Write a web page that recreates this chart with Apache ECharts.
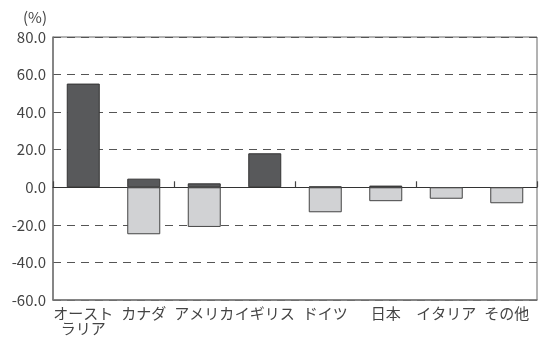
<!DOCTYPE html>
<html>
<head>
<meta charset="utf-8">
<script src="https://cdn.jsdelivr.net/npm/echarts@6/dist/echarts.min.js"></script>
<style>
  html, body { margin: 0; padding: 0; background: #fff; }
  #chart { width: 546px; height: 341px; }
</style>
</head>
<body>
<div id="chart"></div>
<script>
// Categories (countries / regions)
const categories = ['オースト\nラリア', 'カナダ', 'アメリカ', 'イギリス', 'ドイツ', '日本', 'イタリア', 'その他'];
// Positive contributions (%)
const positiveValues = [55.2, 4.6, 2.1, 18.1, 0.4, 0.9, 0, 0];
// Negative contributions (%)
const negativeValues = [0, -25.0, -21.1, 0, -13.3, -7.4, -6.1, -8.5];
// Value axis range and step
const yMin = -60, yMax = 80, yStep = 20;
const unitLabel = '(%)';

const font = '"Noto Sans CJK JP", "Noto Sans", sans-serif';
const chart = echarts.init(document.getElementById('chart'), null, { renderer: 'canvas' });

// zero entries are left empty so no flat bar outline is drawn
const asBars = arr => arr.map(v => (v === 0 ? '-' : v));

chart.setOption({
  animation: false,
  backgroundColor: '#fff',
  title: {
    text: unitLabel,
    left: 18, top: 5,
    textStyle: { fontFamily: font, fontSize: 15, fontWeight: 'normal', color: '#444' }
  },
  grid: {
    left: 53, right: 9, top: 37, bottom: 41,
    show: true, borderColor: '#666', borderWidth: 1, backgroundColor: 'transparent'
  },
  xAxis: [
    {
      type: 'category',
      data: categories,
      position: 'bottom',
      axisLine: { onZero: false, show: true, lineStyle: { color: '#777', width: 1.5 } },
      axisTick: { show: false },
      axisLabel: {
        interval: 0, margin: 6, fontFamily: font, fontSize: 15, color: '#444',
        lineHeight: 15
      }
    },
    {
      type: 'category',
      data: categories,
      position: 'bottom',
      axisLine: { onZero: true, show: true, lineStyle: { color: '#333', width: 1 } },
      axisTick: { show: true, inside: true, length: 6, lineStyle: { color: '#444', width: 1.2 } },
      axisLabel: { show: false }
    }
  ],
  yAxis: {
    type: 'value',
    min: yMin, max: yMax, interval: yStep,
    axisLine: { show: true, lineStyle: { color: '#777', width: 1.5 } },
    axisTick: { show: false },
    axisLabel: {
      fontFamily: font, fontSize: 15, color: '#444', margin: 7,
      formatter: v => v.toFixed(1)
    },
    splitLine: {
      show: true,
      lineStyle: { color: '#555', type: [8, 6], width: 1 }
    }
  },
  series: [
    {
      type: 'bar',
      name: 'positive',
      stack: 'total',
      xAxisIndex: 0,
      data: asBars(positiveValues),
      barWidth: 33,
      itemStyle: { color: '#58595b', borderColor: '#333', borderWidth: 1 }
    },
    {
      type: 'bar',
      name: 'negative',
      stack: 'total',
      xAxisIndex: 0,
      data: asBars(negativeValues),
      barWidth: 33,
      itemStyle: { color: '#d1d2d4', borderColor: '#444', borderWidth: 1 }
    }
  ]
});
</script>
</body>
</html>
